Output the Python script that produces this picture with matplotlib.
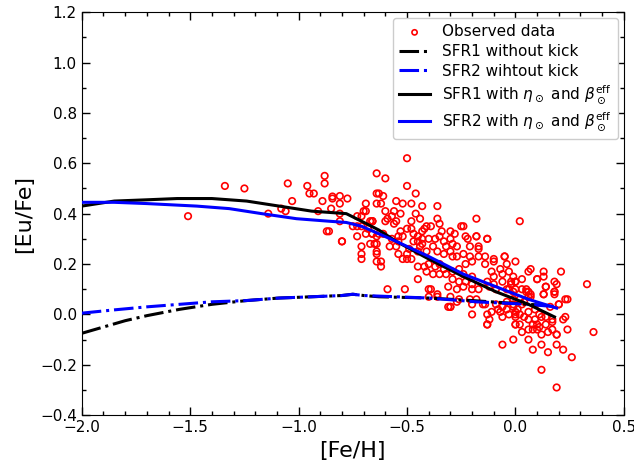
import matplotlib
matplotlib.use("Agg")
import matplotlib.pyplot as plt
from matplotlib.ticker import MultipleLocator

# Observed data ([Fe/H], [Eu/Fe])
obs_feh = [
    -1.51, -1.34, -1.25, -1.14, -1.08, -1.06, -1.05, -1.03, -0.96, -0.95, -0.93, -0.89, -0.88, -0.88, -0.91, -0.87,
    -0.844, -0.844, -0.81, -0.775, -0.81, -0.85, -0.81, -0.81, -0.86, -0.80, -0.69, -0.69, -0.71, -0.66, -0.64, -0.64,
    -0.73, -0.69, -0.66, -0.71, -0.71, -0.71, -0.67, -0.65, -0.64, -0.64,
    -0.50, -0.64, -0.60, -0.50, -0.46, -0.63, -0.61, -0.62, -0.55, -0.52, -0.43, -0.70, -0.60, -0.57, -0.55, -0.60,
    -0.66, -0.48, -0.67, -0.66, -0.63, -0.64, -0.64, -0.64, -0.62, -0.62, -0.58, -0.54, -0.52, -0.50, -0.48, -0.50,
    -0.54, -0.55, -0.54, -0.53, -0.48, -0.47, -0.45, -0.45, -0.43, -0.45, -0.43, -0.41, -0.45, -0.41, -0.45, -0.59,
    -0.51, -0.80, -0.73, -0.71, -0.66, -0.75, -0.73, -0.68, -0.61, -0.56, -0.59, -0.56,
    -0.18, 0.02, -0.13, -0.18, -0.17, -0.17, -0.10, -0.05, 0.00, 0.07, 0.06, 0.13, 0.21, 0.10, 0.33, 0.19,
    0.14, 0.18, 0.24, 0.20, 0.36, 0.24, 0.26, 0.22, 0.19, 0.15, 0.12, 0.08, 0.12, 0.19, -0.01, -0.06,
    0.06, -0.13, -0.20, -0.30, -0.40, -0.36, -0.36,
    0.13, 0.18, 0.23, 0.20, 0.22, 0.23, 0.19, 0.08, 0.06, 0.10, 0.11, 0.12, 0.15, 0.17, 0.19, 0.14,
    0.10, 0.08, 0.06, 0.09, 0.12, 0.14, 0.17, 0.17, 0.00, 0.02, 0.00, 0.02, 0.04, 0.06, 0.01, 0.03,
    -0.01, 0.06, 0.07, 0.05, -0.01, 0.02,
    0.03, 0.10, 0.13, 0.18, 0.14, 0.18, -0.02, 0.00, 0.00, 0.03, 0.05, 0.06, 0.07, -0.03, 0.13,
    -0.30, -0.27, -0.20, -0.15, -0.13, -0.11, -0.13, -0.12, -0.09, -0.06, -0.04, -0.07, -0.06, -0.03, 0.00, 0.00,
    0.00, -0.01, -0.04,
    -0.36, -0.36, -0.35, -0.39, -0.42, -0.34, -0.30, -0.28, -0.25, -0.24,
    -0.37, -0.40, -0.43, -0.35, -0.33, -0.30, -0.29, -0.32, -0.27, -0.23, -0.22, -0.21, -0.18, -0.13,
    -0.41, -0.38, -0.36, -0.33, -0.30, -0.29, -0.27, -0.24, -0.21, -0.20, -0.17, -0.14, -0.14,
    -0.10, -0.05, -0.04, -0.07, -0.11, -0.10, -0.06, -0.03, -0.01, 0.00, -0.02, -0.06, -0.10, -0.13, -0.12, -0.09,
    -0.04, -0.01,
    -0.42, -0.40, -0.37, -0.35, -0.33, -0.38, -0.35, -0.32, -0.29, -0.26, -0.24, -0.23, -0.29, -0.26, -0.23, -0.20,
    -0.20, -0.31, -0.27, -0.24, -0.20, -0.17, -0.39, -0.30, -0.26, -0.21, -0.18, -0.14, -0.31, -0.40,
    -0.49, -0.47, -0.44, -0.52, -0.57, -0.50, -0.46, -0.53, -0.48, -0.44, 0.04, 0.09, 0.16, -0.08, 0.11, 0.03,
]
obs_eufe = [
    0.39, 0.51, 0.50, 0.40, 0.42, 0.41, 0.52, 0.45, 0.51, 0.48, 0.48, 0.45, 0.55, 0.52, 0.41, 0.33,
    0.468, 0.46, 0.47, 0.46, 0.44, 0.42, 0.40, 0.37, 0.33, 0.29, 0.44, 0.41, 0.39, 0.37, 0.48, 0.44,
    0.35, 0.32, 0.32, 0.27, 0.24, 0.22, 0.28, 0.28, 0.25, 0.21,
    0.62, 0.56, 0.54, 0.51, 0.48, 0.48, 0.47, 0.44, 0.45, 0.44, 0.43, 0.41, 0.41, 0.39, 0.37, 0.37,
    0.37, 0.37, 0.37, 0.32, 0.32, 0.31, 0.28, 0.24, 0.21, 0.19, 0.27, 0.24, 0.22, 0.22, 0.22, 0.24,
    0.29, 0.27, 0.31, 0.33, 0.34, 0.32, 0.31, 0.29, 0.28, 0.25, 0.33, 0.35, 0.19, 0.17, 0.14, 0.10,
    0.10, 0.29, 0.31, 0.35, 0.37, 0.35, 0.39, 0.34, 0.32, 0.36, 0.38, 0.41,
    0.38, 0.37, 0.30, 0.31, 0.27, 0.26, 0.22, 0.23, 0.21, 0.18, 0.17, 0.17, 0.17, 0.14, 0.12, 0.12,
    0.11, 0.08, 0.06, 0.04, -0.07, -0.06, -0.17, -0.14, -0.12, -0.15, -0.12, -0.14, -0.22, -0.29, -0.10, -0.12,
    -0.10, -0.04, 0.00, 0.03, 0.10, 0.08, 0.07,
    0.08, 0.09, 0.06, 0.04, -0.02, -0.01, -0.08, -0.06, -0.06, -0.06, -0.05, -0.08, -0.07, -0.06, -0.08, -0.04,
    -0.04, -0.04, -0.02, -0.02, -0.01, -0.01, -0.03, -0.02, -0.04, -0.04, 0.00, 0.00, -0.01, 0.01, 0.02, 0.04,
    0.04, 0.07, 0.08, 0.09, 0.06, 0.06,
    0.14, 0.14, 0.15, 0.13, 0.11, 0.09, 0.13, 0.13, 0.10, 0.10, 0.10, 0.09, 0.07, 0.10, 0.08,
    0.03, 0.05, 0.04, 0.04, 0.00, 0.01, -0.04, -0.02, 0.04, 0.03, 0.02, 0.01, -0.01, 0.00, 0.01, -0.01,
    -0.04, 0.03, 0.05,
    0.43, 0.38, 0.36, 0.35, 0.34, 0.33, 0.33, 0.32, 0.35, 0.35,
    0.30, 0.30, 0.30, 0.31, 0.29, 0.30, 0.28, 0.27, 0.27, 0.31, 0.30, 0.27, 0.31, 0.30,
    0.25, 0.27, 0.25, 0.24, 0.25, 0.23, 0.23, 0.24, 0.23, 0.21, 0.23, 0.23, 0.20,
    0.21, 0.23, 0.20, 0.18, 0.17, 0.15, 0.16, 0.17, 0.15, 0.13, 0.12, 0.13, 0.12, 0.13, 0.11, 0.10,
    0.10, 0.09,
    0.19, 0.20, 0.19, 0.20, 0.18, 0.16, 0.16, 0.16, 0.17, 0.18, 0.16, 0.20, 0.14, 0.13, 0.13, 0.12,
    0.15, 0.11, 0.10, 0.11, 0.10, 0.10, 0.10, 0.07, 0.06, 0.06, 0.06, 0.04, 0.03, 0.07,
    0.26, 0.29, 0.27, 0.31, 0.30, 0.34, 0.40, 0.40, 0.44, 0.38, 0.05, 0.02, 0.03, 0.02, 0.00, -0.07,
]

# Model tracks
sfr1_nokick_feh = [-2.0, -1.9, -1.8, -1.70, -1.55, -1.40, -1.24, -1.09, -0.94, -0.80, -0.75, -0.70, -0.63, -0.40, -0.20, 0.06, 0.15]
sfr1_nokick_eufe = [-0.075, -0.05, -0.025, -0.005, 0.02, 0.04, 0.055, 0.065, 0.07, 0.075, 0.08, 0.075, 0.07, 0.065, 0.055, 0.04, 0.035]

sfr2_nokick_feh = [-2.0, -1.85, -1.70, -1.55, -1.40, -1.24, -1.09, -0.94, -0.80, -0.75, -0.70, -0.40, -0.18, 0.06, 0.19]
sfr2_nokick_eufe = [0.005, 0.018, 0.03, 0.04, 0.05, 0.055, 0.065, 0.07, 0.075, 0.08, 0.075, 0.065, 0.05, 0.04, 0.03]

sfr1_kick_feh = [-2.0, -1.85, -1.70, -1.56, -1.40, -1.32, -1.24, -1.09, -0.94, -0.78, -0.71, -0.63, -0.55, -0.40, -0.24, -0.09, 0.06, 0.18]
sfr1_kick_eufe = [0.43, 0.45, 0.455, 0.46, 0.46, 0.455, 0.45, 0.43, 0.41, 0.40, 0.37, 0.335, 0.29, 0.22, 0.15, 0.09, 0.04, -0.01]

sfr2_kick_feh = [-2.0, -1.85, -1.70, -1.47, -1.32, -1.17, -1.01, -0.86, -0.78, -0.71, -0.63, -0.55, -0.40, -0.24, -0.09, 0.06, 0.19]
sfr2_kick_eufe = [0.445, 0.445, 0.44, 0.43, 0.42, 0.40, 0.38, 0.37, 0.365, 0.35, 0.32, 0.29, 0.23, 0.16, 0.11, 0.06, 0.025]

fig = plt.figure(figsize=(6.34, 4.67), dpi=100)
ax = fig.add_axes([0.129, 0.111, 0.855, 0.863])

ax.scatter(obs_feh, obs_eufe, s=22, facecolors="none", edgecolors="red", linewidths=1.2,
           label="Observed data", zorder=2)
ax.plot(sfr1_nokick_feh, sfr1_nokick_eufe, color="black", ls="-.", lw=2.2, label="SFR1 without kick", zorder=3)
ax.plot(sfr2_nokick_feh, sfr2_nokick_eufe, color="blue", ls="-.", lw=2.2, label="SFR2 wihtout kick", zorder=3)
ax.plot(sfr1_kick_feh, sfr1_kick_eufe, color="black", ls="-", lw=2.2,
        label=r"SFR1 with $\eta_\odot$ and $\beta_\odot^{\rm eff}$", zorder=3)
ax.plot(sfr2_kick_feh, sfr2_kick_eufe, color="blue", ls="-", lw=2.2,
        label=r"SFR2 with $\eta_\odot$ and $\beta_\odot^{\rm eff}$", zorder=3)

ax.set_xlim(-2.0, 0.5)
ax.set_ylim(-0.4, 1.2)
ax.xaxis.set_major_locator(MultipleLocator(0.5))
ax.xaxis.set_minor_locator(MultipleLocator(0.1))
ax.yaxis.set_major_locator(MultipleLocator(0.2))
ax.yaxis.set_minor_locator(MultipleLocator(0.1))
ax.tick_params(which="both", direction="in", top=True, right=True, labelsize=11)
ax.tick_params(which="major", length=6, width=1)
ax.tick_params(which="minor", length=3, width=1)

ax.set_xlabel("[Fe/H]", fontsize=16)
ax.set_ylabel("[Eu/Fe]", fontsize=16)

ax.legend(loc="upper right", fontsize=11, handlelength=2.0, markerscale=0.8, framealpha=1,
          labelspacing=0.3, borderaxespad=0.4)

fig.savefig("out.png", dpi=100)
